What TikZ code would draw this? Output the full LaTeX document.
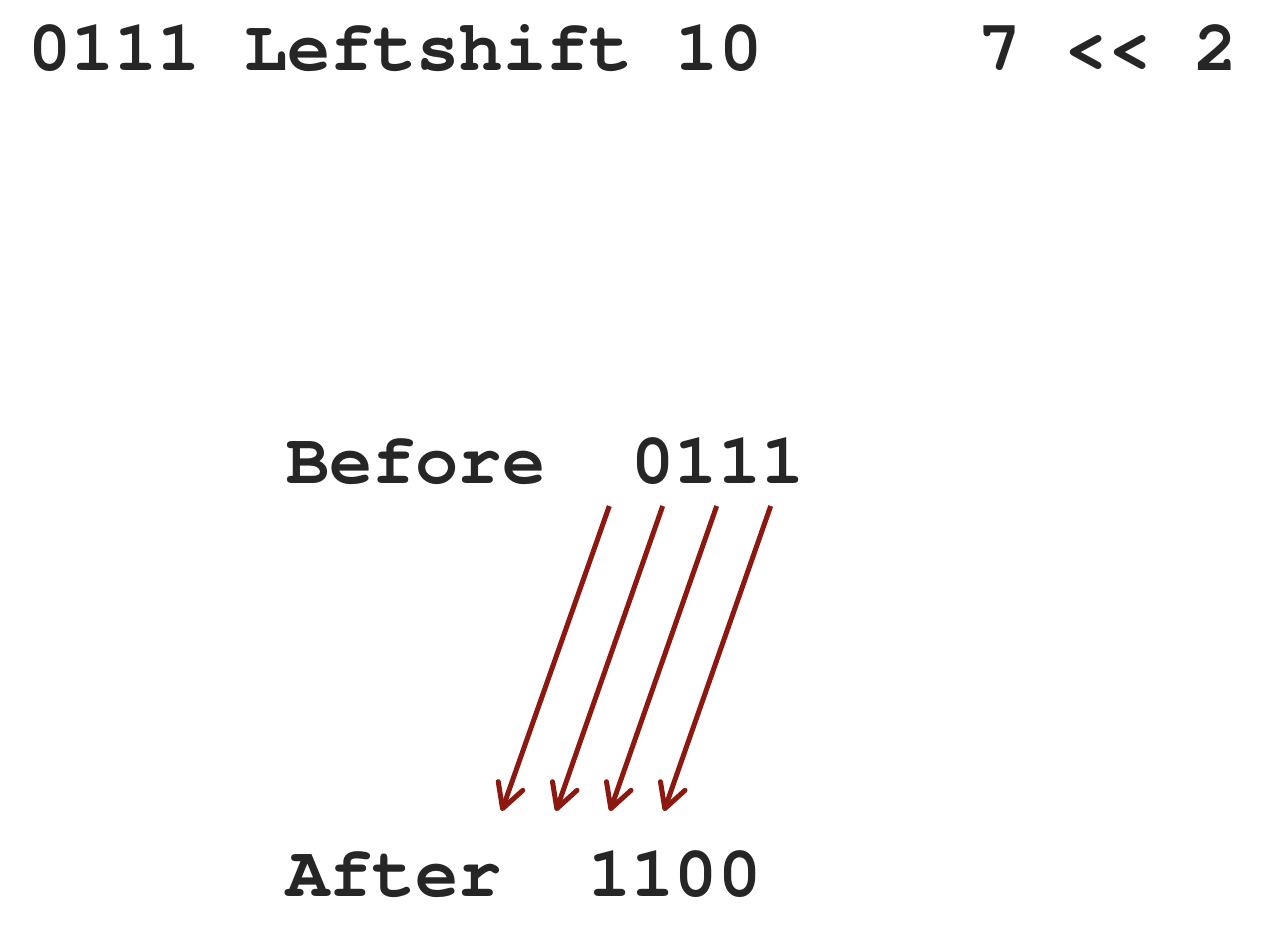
\documentclass[tikz,border=0pt]{standalone}
\usepackage{fontspec}
\usetikzlibrary{arrows.meta,positioning}
\newfontfamily\codefont{TeX Gyre Cursor}
\definecolor{inkgray}{RGB}{38,38,38}
\definecolor{shiftred}{RGB}{140,24,16}
\tikzset{
    code/.style = {inner sep=0pt, outer sep=0pt, text=inkgray,
        font=\codefont\bfseries\fontsize{36}{36}\selectfont},
    shiftarrow/.style = {draw=shiftred, line width=2.5pt,
        -{Straight Barb[length=12pt,width=13pt,round]}}
}
\begin{document}
\begin{tikzpicture}[x = 0.5pt, y = -0.5pt]
        \useasboundingbox (0,0) rectangle (1264,942);

        % heading
        \node[code, anchor=base west] (title) at (28,70) {0111 Leftshift 10};
        \node[code, anchor=base west] (expr) at (978.4,70) {7 << 2};

        % bit patterns
        \node[code, anchor=base west] (before) at (286,483) {Before};
        \node[code, base right=43.2pt of before] (beforebits) {0111};
        \node[code, anchor=base west] (after) at (286,896) {After};
        \node[code, base right=43.2pt of after] (afterbits) {1100};

        % each bit moves two places to the left
        \foreach \i/\xs/\xe in {1/609.3/501.7, 2/662.7/556, 3/716.7/610, 4/770.7/664}{
            \coordinate (from\i) at (\xs,506);
            \coordinate (to\i) at (\xe,811);
            \draw[shiftarrow] (from\i) -- (to\i);
        }
    \end{tikzpicture}
\end{document}
